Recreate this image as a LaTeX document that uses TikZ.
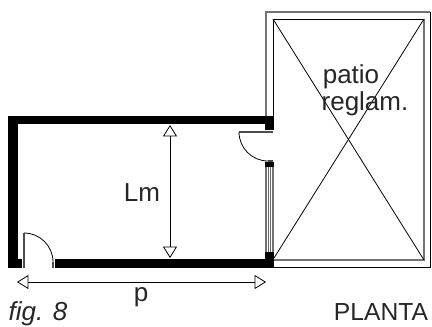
\documentclass[tikz,border=0pt]{standalone}
\usepackage{fontspec}
\setmainfont{Liberation Sans}
\usetikzlibrary{arrows.meta,calc,positioning}
\tikzset{
  wall/.style={fill=black,draw=none},
  thinline/.style={draw=black,line width=0.6pt},
  greyline/.style={draw=black!55,line width=1pt},
  leafline/.style={draw=black!70,line width=1.2pt},
  dimline/.style={draw=black,line width=0.6pt,{Triangle[open,length=8.5pt,width=10.5pt,fill=white]}-{Triangle[open,length=8.5pt,width=10.5pt,fill=white]}},
  label/.style={inner sep=0pt,anchor=base,text=black!85,font=\fontsize{19.5}{19.5}\selectfont}
}
\begin{document}
\begin{tikzpicture}[x=0.75pt,y=-0.75pt]
  \useasboundingbox (0,0) rectangle (432,326);
  \coordinate (O1) at (266,12);
  \coordinate (O2) at (430,267);
  \coordinate (I1) at (273,19);
  \coordinate (I2) at (424,260);
  \draw[greyline] (266,116)--(O1)--(430,12);
  \draw[thinline] (430,12)--(O2)--(274,267);
  \draw[thinline] (273,116)--(I1)--(424,19);
  \draw[greyline] (424,19)--(I2)--(274,260);
  \draw[thinline] (I1)--(I2);
  \draw[thinline] (424,19)--(274,258);
  \fill[wall] (8,116) rectangle (274,124);
  \fill[wall] (8,116) rectangle (18,268);
  \fill[wall] (8,259) rectangle (22,268);
  \fill[wall] (55,259) rectangle (274,268);
  \fill[wall] (265,116) rectangle (274,130);
  \fill[wall] (265,252) rectangle (274,268);
  \fill[wall] (265,162) rectangle (274,167);
  \draw[greyline] (266,167)--(266,252);
  \draw[greyline] (273,167)--(273,252);
  \draw[thinline,black!60] (268.5,167)--(268.5,252);
  \draw[thinline,black!60] (270.5,167)--(270.5,252);
  \draw[leafline] (24,233)--(24,268);
  \draw[thinline] (24,233) arc[start angle=-90,end angle=0,radius=29];
  \draw[leafline] (53,262)--(53,268);
  \draw[leafline] (239,132)--(273,132);
  \draw[thinline] (239,132) arc[start angle=180,end angle=90,radius=29];
  \draw[leafline] (268,161)--(273,161);
  \draw[dimline] (17,282)--(266,282);
  \draw[dimline] (170,125)--(170,258);
  \node[label] (lm) at (142,201) {Lm};
  \node[label] (p) at (141,301) {p};
  \node[label,font=\fontsize{19.5}{19.5}\selectfont\itshape] (fig) at (38,320) {fig. 8};
  \node[label,font=\fontsize{18.5}{18.5}\selectfont] (planta) at (381,320) {PLANTA};
  \node[label] (patio) at (351,83) {patio};
  \node[label] (reglam) at (365,110) {reglam.};
\end{tikzpicture}
\end{document}
